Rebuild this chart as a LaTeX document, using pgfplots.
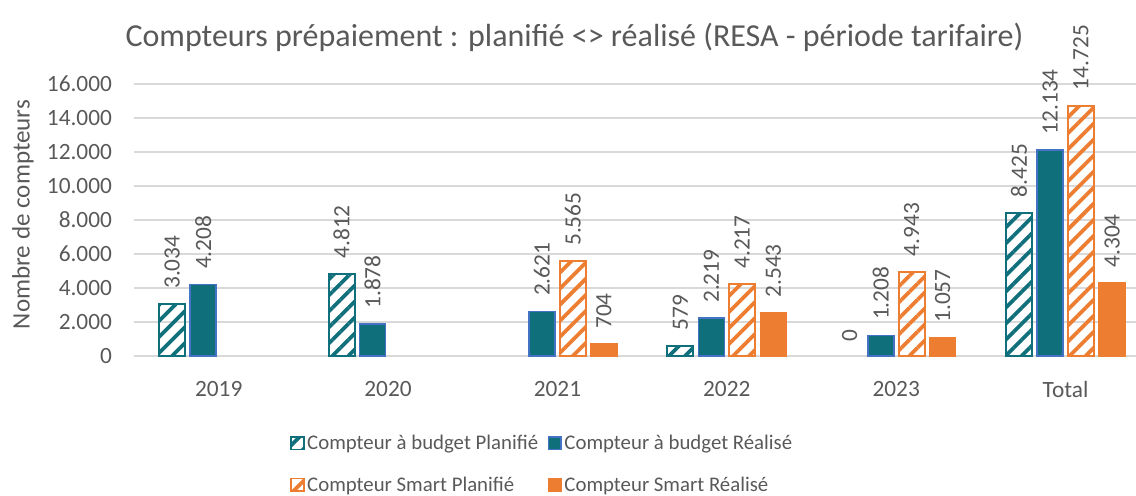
\documentclass[border=0pt]{standalone}
\usepackage{fontspec}
\setmainfont{Carlito}
\usepackage{graphicx}
\usepackage{pgfplots}
\pgfplotsset{compat=1.18}
\usetikzlibrary{patterns.meta}
\definecolor{tealc}{HTML}{0F6F7B}
\definecolor{orangec}{HTML}{ED7D31}
\definecolor{bluec}{HTML}{4472C4}
\definecolor{txt}{HTML}{595959}
\definecolor{gridc}{HTML}{D9D9D9}
\newcommand{\lbl}{\fontsize{17.5}{20}\selectfont}
\begin{document}
\begin{tikzpicture}
\useasboundingbox (0,0) rectangle (852pt,372pt);
\begin{axis}[
  at={(100.5pt,105pt)}, anchor=south west,
  scale only axis, width=751.5pt, height=204pt,
  xmin=-0.5, xmax=5.416, ymin=0, ymax=16000,
  ytick={0,2000,...,16000},
  xtick={0,...,5}, xticklabels={2019,2020,2021,2022,2023,Total},
  axis line style={draw=none}, major tick length=0pt,
  ymajorgrids, grid style={gridc, line width=1.1pt},
  scaled y ticks=false,
  /pgf/number format/1000 sep={.},
  /pgf/number format/assume math mode=true,
  tick label style={font=\lbl, text=txt},
  xticklabel style={yshift=-15.5pt},
  yticklabel style={xshift=-13pt},
  clip=false,
  ylabel={Nombre de compteurs},
  every axis y label/.style={at={(axis description cs:-0.1108,0.52)}, rotate=90, anchor=center, font=\fontsize{18.8}{21}\selectfont, text=txt},
  title={Compteurs prépaiement : planifié <> réalisé (RESA - période tarifaire)},
  every axis title/.style={at={(axis description cs:0.4396,1.173)}, anchor=center, font=\fontsize{24}{27}\selectfont, text=txt},
  legend columns=2,
  legend style={at={(axis description cs:0.1557,-0.279)}, anchor=north west, draw=none, fill=none,
    font=\fontsize{15.6}{18}\selectfont, text=txt, inner sep=0pt, row sep=15pt,
    /tikz/every even column/.append style={column sep=5pt},
    cells={anchor=west}},
  mybar/.style={ybar, bar width=19.5pt, bar shift=#1,
    legend image code/.code={\draw[##1, line width=1.2pt] (0.5pt,-4.75pt) rectangle (10pt,4.75pt);},
    nodes near coords={\rotatebox{90}{\pgfmathprintnumber{\pgfplotspointmeta}}},
    nodes near coords style={anchor=south, inner ysep=11pt, inner xsep=0pt, xshift=#1, font=\lbl, text=txt}},
]
\addplot[mybar=-34.9pt, draw=tealc, line width=1.5pt,
  pattern={Lines[angle=45,distance=8.5pt,line width=2.8pt]}, pattern color=tealc]
  coordinates {(0,3034) (1,4812) (3,579) (5,8425)};
\addlegendentry{Compteur à budget Planifié}
\addplot[mybar=-11.6pt, draw=bluec, fill=tealc, line width=1.2pt]
  coordinates {(0,4208) (1,1878) (2,2621) (3,2219) (4,1208) (5,12134)};
\addlegendentry{Compteur à budget Réalisé}
\addplot[mybar=11.6pt, draw=orangec, line width=1.5pt,
  pattern={Lines[angle=45,distance=8.5pt,line width=2.8pt]}, pattern color=orangec]
  coordinates {(2,5565) (3,4217) (4,4943) (5,14725)};
\addlegendentry{Compteur Smart Planifié}
\addplot[mybar=34.9pt, draw=orangec, fill=orangec, line width=1pt]
  coordinates {(2,704) (3,2543) (4,1057) (5,4304)};
\addlegendentry{Compteur Smart Réalisé}
\addplot[mybar=-34.9pt, draw=none, fill=none, forget plot]
  coordinates {(4,0)};
\end{axis}
\end{tikzpicture}
\end{document}
